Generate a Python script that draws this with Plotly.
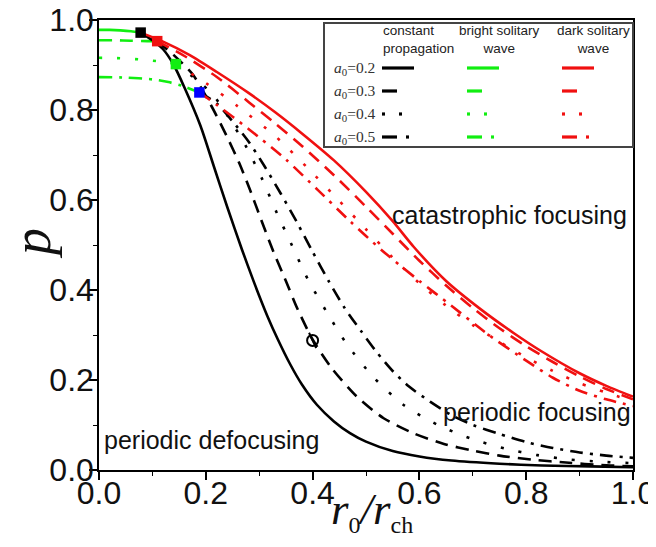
import plotly.graph_objects as go

# ---------------- data ----------------
# bright solitary wave (green), one per a0
gx02 = [0.0, 0.02, 0.04, 0.06, 0.078]
gp02 = [0.978, 0.978, 0.977, 0.975, 0.972]
gx03 = [0.0, 0.03, 0.06, 0.09, 0.109]
gp03 = [0.955, 0.955, 0.954, 0.953, 0.953]
gx04 = [0.0, 0.04, 0.08, 0.12, 0.144]
gp04 = [0.916, 0.915, 0.912, 0.907, 0.902]
gx05 = [0.0, 0.05, 0.1, 0.13, 0.16, 0.188]
gp05 = [0.873, 0.872, 0.868, 0.862, 0.852, 0.839]

# constant propagation (black)
bx02 = [0.078, 0.1, 0.12, 0.14, 0.16, 0.19, 0.215, 0.24, 0.268, 0.29, 0.315, 0.335,
        0.358, 0.38, 0.408, 0.44, 0.47, 0.5, 0.55, 0.6, 0.66, 0.75, 0.83, 0.92, 1.0]
bp02 = [0.972, 0.955, 0.935, 0.9, 0.85, 0.765, 0.675, 0.585, 0.489, 0.418, 0.343, 0.29,
        0.235, 0.19, 0.145, 0.108, 0.082, 0.063, 0.042, 0.03, 0.021, 0.014, 0.01, 0.008,
        0.006]
bx03 = [0.109, 0.14, 0.175, 0.21, 0.24, 0.263, 0.282, 0.304, 0.325, 0.35, 0.371, 0.4,
        0.436, 0.483, 0.533, 0.59, 0.646, 0.7, 0.75, 0.81, 0.88, 0.94, 1.0]
bp03 = [0.953, 0.922, 0.88, 0.81, 0.74, 0.681, 0.625, 0.555, 0.49, 0.42, 0.36, 0.29,
        0.226, 0.163, 0.115, 0.081, 0.058, 0.043, 0.032, 0.023, 0.016, 0.011, 0.008]
bx04 = [0.144, 0.18, 0.214, 0.242, 0.274, 0.305, 0.332, 0.361, 0.391, 0.426, 0.465,
        0.515, 0.571, 0.633, 0.696, 0.759, 0.821, 0.884, 0.946, 1.0]
bp04 = [0.902, 0.87, 0.833, 0.785, 0.722, 0.648, 0.574, 0.5, 0.424, 0.352, 0.278,
        0.205, 0.144, 0.101, 0.07, 0.048, 0.033, 0.023, 0.018, 0.015]
bx05 = [0.188, 0.22, 0.25, 0.28, 0.31, 0.34, 0.37, 0.4, 0.43, 0.46, 0.49, 0.52, 0.55,
        0.58, 0.62, 0.66, 0.7, 0.75, 0.8, 0.85, 0.9, 0.95, 1.0]
bp05 = [0.839, 0.815, 0.775, 0.73, 0.675, 0.615, 0.552, 0.485, 0.42, 0.36, 0.31, 0.262,
        0.22, 0.186, 0.152, 0.122, 0.1, 0.08, 0.062, 0.049, 0.039, 0.032, 0.027]

# dark solitary wave (red)
rx02 = [0.078, 0.12, 0.17, 0.22, 0.28, 0.33, 0.38, 0.44, 0.5, 0.55, 0.59, 0.65, 0.715,
        0.777, 0.827, 0.9, 0.95, 1.0]
rp02 = [0.972, 0.952, 0.922, 0.885, 0.838, 0.795, 0.748, 0.688, 0.618, 0.553, 0.495,
        0.42, 0.357, 0.304, 0.265, 0.215, 0.187, 0.163]
rx03 = [0.109, 0.16, 0.22, 0.28, 0.33, 0.38, 0.44, 0.5, 0.55, 0.6, 0.65, 0.7, 0.75,
        0.8, 0.85, 0.9, 0.95, 1.0]
rp03 = [0.953, 0.92, 0.874, 0.818, 0.77, 0.72, 0.655, 0.585, 0.525, 0.465, 0.41, 0.36,
        0.315, 0.275, 0.24, 0.208, 0.18, 0.157]
rx04 = [0.144, 0.2, 0.26, 0.33, 0.39, 0.45, 0.5, 0.55, 0.6, 0.65, 0.7, 0.75, 0.8, 0.85,
        0.9, 0.95, 1.0]
rp04 = [0.902, 0.86, 0.808, 0.742, 0.672, 0.598, 0.535, 0.472, 0.415, 0.365, 0.322,
        0.285, 0.25, 0.22, 0.193, 0.172, 0.153]
rx05 = [0.188, 0.22, 0.28, 0.35, 0.41, 0.47, 0.53, 0.6, 0.66, 0.73, 0.8, 0.85, 0.9,
        0.95, 1.0]
rp05 = [0.839, 0.812, 0.758, 0.69, 0.622, 0.553, 0.488, 0.42, 0.365, 0.3, 0.243, 0.205,
        0.176, 0.157, 0.142]

# marked point
circle_x = [0.4]
circle_p = [0.288]

a0_values = [0.2, 0.3, 0.4, 0.5]
col_names = ["constant<br>propagation", "bright solitary<br>wave", "dark solitary<br>wave"]
x_ticks = [0.0, 0.2, 0.4, 0.6, 0.8, 1.0]
y_ticks = [0.0, 0.2, 0.4, 0.6, 0.8, 1.0]

# ---------------- styles ----------------
BLACK = "black"
RED = "#f01010"
GREEN = "#11ee11"
BLUE = "#0000ff"
DASHES = ["solid", "13px,8px", "3px,15px", "13px,7px,3px,7px"]

fig = go.Figure()

groups = [
    (GREEN, [(gx02, gp02), (gx03, gp03), (gx04, gp04), (gx05, gp05)]),
    (BLACK, [(bx02, bp02), (bx03, bp03), (bx04, bp04), (bx05, bp05)]),
    (RED, [(rx02, rp02), (rx03, rp03), (rx04, rp04), (rx05, rp05)]),
]
for color, series in groups:
    for (xs, ps), dash in zip(series, DASHES):
        fig.add_trace(go.Scatter(
            x=xs, y=ps, mode="lines",
            line=dict(color=color, width=2.6, dash=dash, shape="spline", smoothing=0.7),
            showlegend=False, hoverinfo="skip"))

# squares at the ends of the bright-solitary branches
square_x = [gx02[-1], gx03[-1], gx04[-1], gx05[-1]]
square_p = [gp02[-1], gp03[-1], gp04[-1], gp05[-1]]
fig.add_trace(go.Scatter(
    x=square_x, y=square_p, mode="markers",
    marker=dict(symbol="square", size=10.5, color=[BLACK, RED, GREEN, BLUE],
                line=dict(width=0)),
    showlegend=False, hoverinfo="skip"))

fig.add_trace(go.Scatter(
    x=circle_x, y=circle_p, mode="markers",
    marker=dict(symbol="circle-open", size=11, color=BLACK, line=dict(width=2, color=BLACK)),
    showlegend=False, hoverinfo="skip"))
fig.add_trace(go.Scatter(
    x=circle_x, y=circle_p, mode="markers",
    marker=dict(symbol="line-ns", size=12, angle=-25, color=BLACK,
                line=dict(width=2, color=BLACK)),
    showlegend=False, hoverinfo="skip"))

# ---------------- layout (page has an 8px body margin) ----------------
W, H = 648, 531
L, T = 91, 12
PW, PH = 534, 450
R = W - L - PW
B = H - T - PH


def px_x(px):
    # page pixel -> paper fraction
    return (px - 99) / PW


def px_y(py):
    return (470 - py) / PH


shapes = []
annotations = []

# legend box
shapes.append(dict(type="rect", xref="paper", yref="paper",
                   x0=px_x(324), x1=px_x(633), y0=px_y(147), y1=px_y(23),
                   line=dict(color="#444444", width=2), fillcolor="white", layer="above"))

head_font = dict(family="Liberation Sans, Arial", size=13.5, color="#222222")
annotations.append(dict(xref="paper", yref="paper", x=px_x(381), y=px_y(40),
                        text=col_names[0], showarrow=False, font=head_font,
                        xanchor="left", yanchor="middle", align="left"))
for name, cx in zip(col_names[1:], [499, 593]):
    annotations.append(dict(xref="paper", yref="paper", x=px_x(cx), y=px_y(40),
                            text=name, showarrow=False, font=head_font,
                            xanchor="center", yanchor="middle", align="center"))

row_y = [68, 91, 114, 137]
col_x0 = [382, 467, 562]
col_colors = [BLACK, GREEN, RED]
segments = [[(0, 32)], [(0, 15)], [(0, 3), (17, 20)], [(0, 15), (24, 27)]]
for a0, ry, segs in zip(a0_values, row_y, segments):
    annotations.append(dict(xref="paper", yref="paper", x=px_x(332), y=px_y(ry),
                            text="<i>a</i><sub>0</sub>=%.1f" % a0, showarrow=False,
                            font=dict(family="Liberation Serif, Times New Roman", size=15.5,
                                      color="#333333"),
                            xanchor="left", yanchor="middle"))
    for cx, cc in zip(col_x0, col_colors):
        for s0, s1 in segs:
            shapes.append(dict(type="line", xref="paper", yref="paper",
                               x0=px_x(cx + s0), x1=px_x(cx + s1),
                               y0=px_y(ry), y1=px_y(ry),
                               line=dict(color=cc, width=3.2), layer="above"))

region_font = dict(family="Liberation Sans, Arial", size=25, color="#111111")
annotations.append(dict(x=0.768, y=0.567, xref="x", yref="y", text="catastrophic focusing",
                        showarrow=False, font=region_font, xanchor="center", yanchor="middle"))
annotations.append(dict(x=0.82, y=0.129, xref="x", yref="y", text="periodic focusing",
                        showarrow=False, font=region_font, xanchor="center", yanchor="middle"))
annotations.append(dict(x=0.006, y=0.067, xref="x", yref="y", text="periodic defocusing",
                        showarrow=False, font=region_font, xanchor="left", yanchor="middle"))

# axis titles as annotations
serif = "Liberation Serif, Times New Roman"
annotations.append(dict(xref="paper", yref="paper", x=px_x(372), y=px_y(511),
                        text=("<i>r</i><sub><span style='font-size:24px'>0</span></sub>"
                              "<i>/r</i><sub><span style='font-size:24px'>ch</span></sub>"),
                        showarrow=False,
                        font=dict(family=serif, size=45, color="#111111"),
                        xanchor="center", yanchor="middle"))
annotations.append(dict(xref="paper", yref="paper", x=px_x(32), y=px_y(244),
                        text="<i>p</i>", showarrow=False, textangle=-90,
                        font=dict(family=serif, size=54, color="#111111"),
                        xanchor="center", yanchor="middle"))

axis_common = dict(
    range=[0, 1], tickmode="array", ticks="outside", ticklen=8, tickwidth=1.5,
    tickcolor="black", showline=True, linecolor="black", linewidth=1.5, mirror=True,
    showgrid=False, zeroline=False, automargin=False, ticklabeloverflow="allow",
    minor=dict(tickmode="linear", tick0=0, dtick=0.1, ticks="outside", ticklen=4,
               tickwidth=1, tickcolor="black"),
    tickfont=dict(family="Liberation Sans, Arial", size=32, color="#111111"),
)

fig.update_layout(
    width=W, height=H,
    margin=dict(l=L, r=R, t=T, b=B, autoexpand=False),
    plot_bgcolor="white", paper_bgcolor="white",
    showlegend=False,
    shapes=shapes, annotations=annotations,
    xaxis=dict(axis_common, tickvals=x_ticks, ticktext=["%.1f" % v for v in x_ticks],
               ticklabelstandoff=-14),
    yaxis=dict(axis_common, tickvals=y_ticks, ticktext=["%.1f" % v for v in y_ticks],
               ticklabelstandoff=-11),
)

fig.write_html("out.html")
